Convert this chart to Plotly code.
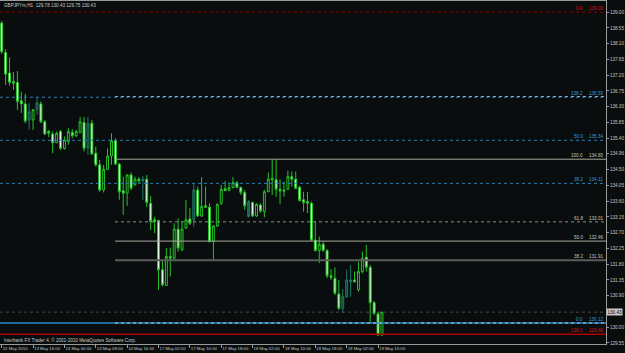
import plotly.graph_objects as go

# ---------------- data ----------------
bar_index = list(range(98))
opens = [138.69, 137.85, 137.26, 137.02, 136.99, 136.47, 136.38, 135.92, 135.92, 136.21,
         136.38, 135.87, 135.59, 135.52, 135.27, 135.59, 135.11, 135.30, 135.56, 135.47,
         135.56, 135.85, 135.12, 135.83, 134.97, 134.64, 133.92, 134.51, 134.89, 135.33,
         134.66, 133.90, 133.83, 134.35, 134.07, 134.23, 134.18, 134.23, 133.54, 133.07,
         133.05, 131.64, 131.19, 132.02, 131.97, 132.80, 132.21, 132.83, 133.09, 133.07,
         133.92, 133.18, 133.47, 133.43, 132.45, 132.89, 133.54, 133.96, 133.90, 133.99,
         134.13, 133.99, 133.85, 133.59, 133.56, 133.18, 133.49, 133.30, 133.87, 134.21,
         134.21, 133.94, 133.92, 133.94, 134.30, 134.23, 134.00, 133.64, 133.59, 133.54,
         132.49, 132.19, 132.37, 132.19, 131.47, 131.40, 130.95, 130.54, 130.87, 131.35,
         131.35, 131.07, 131.59, 132.00, 131.71, 130.70, 130.38, 129.78]
highs = [138.75, 137.94, 137.71, 137.29, 137.32, 136.73, 136.67, 136.40, 136.24, 136.57,
         136.45, 135.92, 135.64, 135.59, 135.59, 135.64, 135.45, 135.69, 135.66, 135.64,
         136.01, 136.01, 136.01, 135.92, 135.16, 134.78, 134.64, 135.11, 135.54, 135.40,
         134.69, 134.30, 134.37, 134.42, 134.30, 134.29, 134.32, 134.35, 133.75, 133.16,
         133.07, 131.92, 132.26, 132.27, 132.97, 133.11, 133.02, 133.64, 133.40, 134.11,
         134.02, 134.29, 134.02, 133.54, 132.92, 133.54, 134.07, 134.18, 134.12, 134.29,
         134.18, 134.02, 133.92, 133.64, 133.59, 133.54, 133.54, 133.92, 134.42, 134.78,
         134.80, 134.23, 134.16, 134.47, 134.45, 134.45, 134.04, 133.87, 133.87, 133.59,
         133.02, 132.59, 132.45, 132.24, 131.66, 131.71, 131.35, 131.09, 131.64, 131.78,
         131.59, 131.87, 132.16, 132.35, 131.78, 130.75, 130.44, 130.43]
lows = [137.81, 136.92, 136.90, 136.78, 136.21, 136.12, 135.83, 135.64, 135.64, 136.07,
        135.83, 135.49, 135.43, 134.97, 135.26, 135.07, 135.07, 135.21, 135.40, 135.43,
        135.54, 135.02, 134.92, 134.92, 134.59, 133.87, 133.85, 134.49, 134.64, 134.64,
        133.64, 133.21, 133.47, 133.92, 134.04, 134.12, 133.64, 133.43, 132.78, 132.69,
        131.07, 131.16, 131.18, 131.45, 131.92, 132.16, 132.18, 132.81, 132.92, 132.87,
        133.15, 133.15, 133.41, 132.42, 131.92, 132.87, 133.49, 133.89, 133.89, 133.97,
        133.97, 133.78, 133.35, 133.14, 133.15, 133.15, 133.27, 133.14, 133.86, 133.78,
        133.73, 133.51, 133.73, 133.92, 134.02, 133.94, 133.59, 133.30, 133.26, 132.47,
        132.16, 131.83, 132.16, 131.40, 131.35, 130.92, 130.49, 130.40, 130.84, 130.87,
        131.27, 131.02, 131.54, 131.59, 130.11, 130.35, 129.75, 129.75]
closes = [137.87, 137.23, 137.00, 136.97, 136.45, 136.38, 135.89, 136.15, 136.21, 136.41,
          135.87, 135.52, 135.54, 135.27, 135.54, 135.11, 135.35, 135.59, 135.47, 135.59,
          135.87, 135.11, 135.81, 134.95, 134.64, 133.92, 134.51, 134.89, 135.33, 134.66,
          133.87, 133.83, 134.35, 133.97, 134.23, 134.18, 134.23, 133.56, 133.02, 133.02,
          131.64, 131.21, 132.02, 131.97, 132.80, 132.26, 132.80, 133.07, 132.97, 133.92,
          133.18, 133.45, 133.43, 132.45, 132.89, 133.51, 133.94, 133.90, 133.99, 134.13,
          133.99, 133.85, 133.47, 133.16, 133.18, 133.51, 133.32, 133.87, 134.23, 134.26,
          133.94, 133.89, 133.89, 134.30, 134.23, 133.97, 133.62, 133.56, 133.54, 132.49,
          132.19, 132.37, 132.19, 131.47, 131.42, 130.97, 130.54, 130.87, 131.35, 131.30,
          131.30, 131.59, 131.97, 131.71, 130.70, 130.40, 129.78, 130.43]
dotted_bars = [7, 9, 22, 36, 49, 63, 87, 88, 89]

date_tick_bars = [0, 8, 16, 24, 32, 40, 48, 56, 64, 72, 80, 88, 96]
date_tick_labels = ["12 May 2010", "13 May 16:00", "14 May 00:00", "14 May 08:00",
                    "14 May 16:00", "17 May 02:00", "17 May 10:00", "17 May 18:00",
                    "18 May 02:00", "18 May 10:00", "18 May 18:00", "19 May 02:00",
                    "19 May 10:00"]
price_ticks = [139.00, 138.55, 138.10, 137.65, 137.20, 136.75, 136.30, 135.85, 135.40,
               134.96, 134.50, 134.05, 133.60, 133.15, 132.70, 132.25, 131.80, 131.35,
               130.90, 130.00, 129.55]

red_fib_names = ["0.0", "138.2"]
red_fib_prices = [139.00, 129.80]
blue_fib_names = ["61.8", "50.0", "38.2", "0.0"]
blue_fib_prices = [136.57, 135.34, 134.11, 130.12]
blue_fib_labelled = [False, True, True, True]
gray_fib_names = ["138.2", "100.0", "61.8", "50.0", "38.2", "0.0"]
gray_fib_prices = [136.59, 134.80, 133.01, 132.46, 131.91, 130.12]
gray_fib_labelled = [True, True, True, True, True, False]
gray_fib_start_bar = 28.9
bid_price = 130.43

title_text = "GBPJPYm,H1  129.78 130.43 129.75 130.43"
copyright_text = "Interbank FX Trader 4, \u00a9 2001-2010 MetaQuotes Software Corp."

# ---------------- style ----------------
BG = "#090d0d"
GREEN = "#25c425"
TEXT = "#c8c8c8"
FONT = "Liberation Sans, Arial, sans-serif"
FS = 4.6
FS_X = 4.3
X_RANGE = [-0.434, 154.15]
Y_RANGE = [129.52, 139.32]

def pick(arr, idx):
    return [arr[i] for i in idx]

normal = [i for i in bar_index if i not in dotted_bars]

fig = go.Figure()
fig.add_trace(go.Candlestick(
    x=pick(bar_index, normal), open=pick(opens, normal), high=pick(highs, normal),
    low=pick(lows, normal), close=pick(closes, normal),
    increasing=dict(line=dict(color=GREEN, width=1), fillcolor=BG),
    decreasing=dict(line=dict(color=GREEN, width=1), fillcolor="#f2fff2"),
    hoverinfo="skip", showlegend=False))
fig.add_trace(go.Candlestick(
    x=pick(bar_index, dotted_bars), open=pick(opens, dotted_bars),
    high=pick(highs, dotted_bars), low=pick(lows, dotted_bars),
    close=pick(closes, dotted_bars),
    increasing=dict(line=dict(color="#1f7a66", width=1), fillcolor="#123a34"),
    decreasing=dict(line=dict(color="#1f7a66", width=1), fillcolor="#1d5a50"),
    hoverinfo="skip", showlegend=False))

shapes = []
shapes.append(dict(type="line", xref="paper", x0=0, x1=1, yref="y", y0=bid_price, y1=bid_price,
                   line=dict(color="#4a4a4a", width=1, dash="dot"), layer="below"))
red_styles = [dict(color="#8a0000", width=1, dash="dot"), dict(color="#b00000", width=1.5)]
for p, st in zip(red_fib_prices, red_styles):
    shapes.append(dict(type="line", xref="paper", x0=0, x1=1, yref="y", y0=p, y1=p, line=st))
blue_styles = [dict(color="#2a7fb8", width=1, dash="dot"), dict(color="#2a7fb8", width=1, dash="dot"),
               dict(color="#2a7fb8", width=1, dash="dot"), dict(color="#2a86c4", width=1.5)]
for p, st in zip(blue_fib_prices, blue_styles):
    shapes.append(dict(type="line", xref="paper", x0=0, x1=1, yref="y", y0=p, y1=p, line=st))
gray_styles = [dict(color="#a8a8a8", width=1, dash="dot"), dict(color="#a8a89c", width=1),
               dict(color="#8c8c8c", width=1, dash="dot"), dict(color="#a8a89c", width=1),
               dict(color="#5c5c5c", width=2), dict(color="#b8c8d0", width=1, dash="dot")]
for p, st in zip(gray_fib_prices, gray_styles):
    shapes.append(dict(type="line", xref="x", x0=gray_fib_start_bar, x1=X_RANGE[1], yref="y",
                       y0=p, y1=p, line=st))

annotations = []
def fib_label(name, price, color):
    annotations.append(dict(xref="paper", x=585 / 606, yref="y", y=price, text=name,
                            xanchor="right", yanchor="bottom", showarrow=False,
                            font=dict(family=FONT, size=FS, color=color), yshift=-1))
    annotations.append(dict(xref="paper", x=605 / 606, yref="y", y=price, text=f"{price:.2f}",
                            xanchor="right", yanchor="bottom", showarrow=False,
                            font=dict(family=FONT, size=FS, color=color), yshift=-1))

for n, p, show in zip(gray_fib_names, gray_fib_prices, gray_fib_labelled):
    if show:
        fib_label(n, p, "#3a9ad8" if n == "138.2" else "#c8c8bc")
for n, p, show in zip(blue_fib_names, blue_fib_prices, blue_fib_labelled):
    if show:
        fib_label(n, p, "#3a9ad8")
for n, p in zip(red_fib_names, red_fib_prices):
    fib_label(n, p, "#d01818")

annotations.append(dict(xref="paper", x=0.003, yref="paper", y=0.988, text=title_text,
                        xanchor="left", yanchor="middle", showarrow=False,
                        font=dict(family=FONT, size=FS, color=TEXT)))
annotations.append(dict(xref="paper", x=0.003, yref="paper", y=0.0105, text=copyright_text,
                        xanchor="left", yanchor="middle", showarrow=False,
                        font=dict(family=FONT, size=FS, color=TEXT)))
annotations.append(dict(xref="paper", x=1.0, yref="y", y=bid_price, text=f"{bid_price:.2f}",
                        xanchor="left", yanchor="middle", showarrow=False,
                        bgcolor="#c8c8c8", borderpad=0.5,
                        font=dict(family=FONT, size=FS, color="#000000")))

fig.update_layout(
    width=625, height=353,
    margin=dict(l=0, r=19, t=1, b=9, autoexpand=False),
    paper_bgcolor=BG, plot_bgcolor=BG,
    shapes=shapes, annotations=annotations,
    showlegend=False,
    xaxis=dict(type="linear", range=X_RANGE, rangeslider=dict(visible=False),
               tickvals=date_tick_bars, ticktext=date_tick_labels,
               ticklabelposition="outside right", tickangle=0, automargin=False,
               ticks="outside", ticklen=3, tickcolor="#9a9a9a",
               tickfont=dict(family=FONT, size=FS_X, color=TEXT),
               showgrid=False, zeroline=False,
               showline=True, linecolor="#9a9a9a", linewidth=1, mirror=True),
    yaxis=dict(side="right", range=Y_RANGE, tickvals=price_ticks, automargin=False,
               ticktext=[f"{v:.2f}" for v in price_ticks],
               ticks="outside", ticklen=2, tickcolor="#9a9a9a",
               tickfont=dict(family=FONT, size=FS, color=TEXT),
               showgrid=False, zeroline=False,
               showline=True, linecolor="#9a9a9a", linewidth=1, mirror=True),
)

fig.write_html("out.html")
